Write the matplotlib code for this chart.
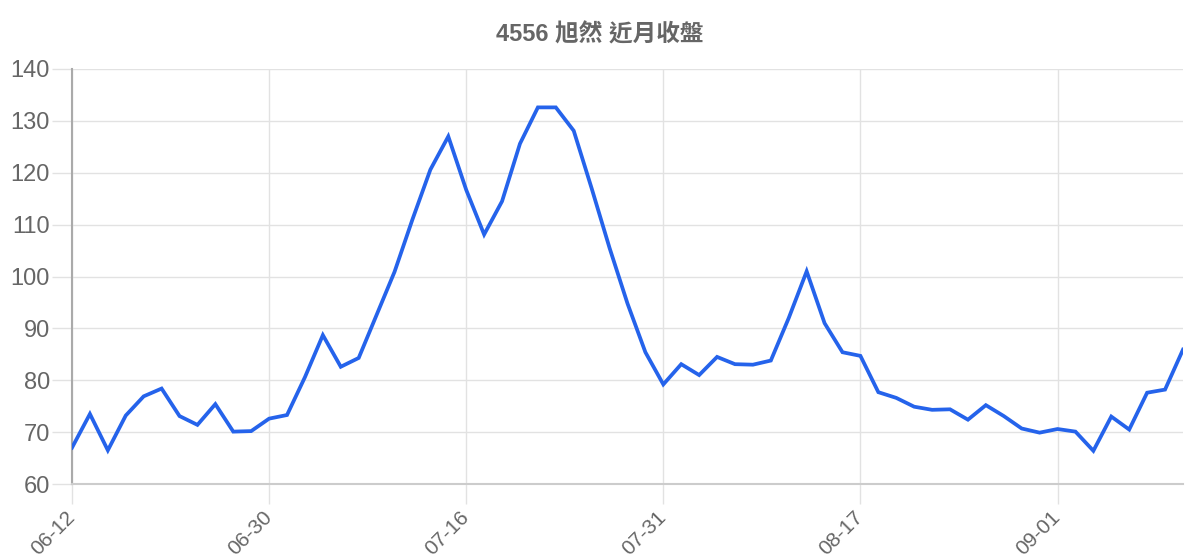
import matplotlib
matplotlib.use("Agg")
import matplotlib.pyplot as plt

title = "4556 旭然 近月收盤"
dates = [
    "06-12", "06-13", "06-16", "06-17", "06-18", "06-19", "06-20", "06-23", "06-24", "06-25", "06-26", "06-30",
    "07-01", "07-02", "07-03", "07-04", "07-07", "07-08", "07-09", "07-10", "07-11", "07-14", "07-16",
    "07-17", "07-18", "07-21", "07-22", "07-23", "07-24", "07-25", "07-28", "07-29", "07-30", "07-31",
    "08-01", "08-04", "08-05", "08-06", "08-07", "08-08", "08-11", "08-12", "08-13", "08-14", "08-17",
    "08-18", "08-19", "08-20", "08-21", "08-22", "08-25", "08-26", "08-27", "08-28", "08-29", "09-01",
    "09-02", "09-03", "09-04", "09-05", "09-08", "09-09", "09-10",
]
closes = [
    67.0, 73.5, 66.5, 73.2, 76.9, 78.4, 73.1, 71.4, 75.4, 70.1, 70.2, 72.6,
    73.3, 80.6, 88.7, 82.6, 84.3, 92.6, 100.9, 111.0, 120.6, 127.0, 116.7,
    108.1, 114.5, 125.6, 132.6, 132.6, 128.1, 117.0, 105.5, 94.8, 85.4, 79.2,
    83.1, 81.0, 84.5, 83.1, 83.0, 83.8, 92.0, 101.0, 91.0, 85.4, 84.7,
    77.7, 76.6, 74.9, 74.3, 74.4, 72.4, 75.2, 73.1, 70.7, 69.9, 70.6,
    70.1, 66.4, 73.0, 70.5, 77.6, 78.2, 85.9,
]
tick_labels = ["06-12", "06-30", "07-16", "07-31", "08-17", "09-01"]
y_ticks = [60, 70, 80, 90, 100, 110, 120, 130, 140]

fam = ["Liberation Sans", "Noto Sans CJK TC", "DejaVu Sans"]
plt.rcParams["font.family"] = fam

fig = plt.figure(figsize=(12, 5.6), dpi=100)
ax = fig.add_axes([0.06, 0.1357, 0.9258, 0.7411])

x = list(range(len(closes)))
ax.plot(x, closes, color="#2563eb", linewidth=2.7, solid_joinstyle="miter", zorder=3)

ax.set_xlim(0, len(closes) - 1)
ax.set_ylim(60, 140)
ax.set_yticks(y_ticks)
ax.set_yticklabels([str(v) for v in y_ticks])
tpos = [dates.index(t) for t in tick_labels]
ax.set_xticks(tpos)
ax.set_xticklabels(tick_labels, rotation=45, ha="right", va="center", rotation_mode="anchor")

ax.grid(True, color="#e2e2e2", linewidth=1.0)
ax.set_axisbelow(True)
ax.tick_params(axis="y", colors="#e2e2e2", labelcolor="#666666", labelsize=17, length=14.5, width=1.0, pad=1.5)
ax.tick_params(axis="x", colors="#e2e2e2", labelcolor="#666666", labelsize=15, length=14.5, width=1.0, pad=7)

for s in ["top", "right"]:
    ax.spines[s].set_visible(False)
ax.spines["left"].set_color("#aaaaaa")
ax.spines["left"].set_linewidth(1.5)
ax.spines["bottom"].set_color("#cccccc")
ax.spines["bottom"].set_linewidth(1.5)

fig.text(0.5, 0.937, title, ha="center", va="center", fontsize=17, fontweight="bold", color="#666666", family=fam)

fig.savefig("out.png", dpi=100)
